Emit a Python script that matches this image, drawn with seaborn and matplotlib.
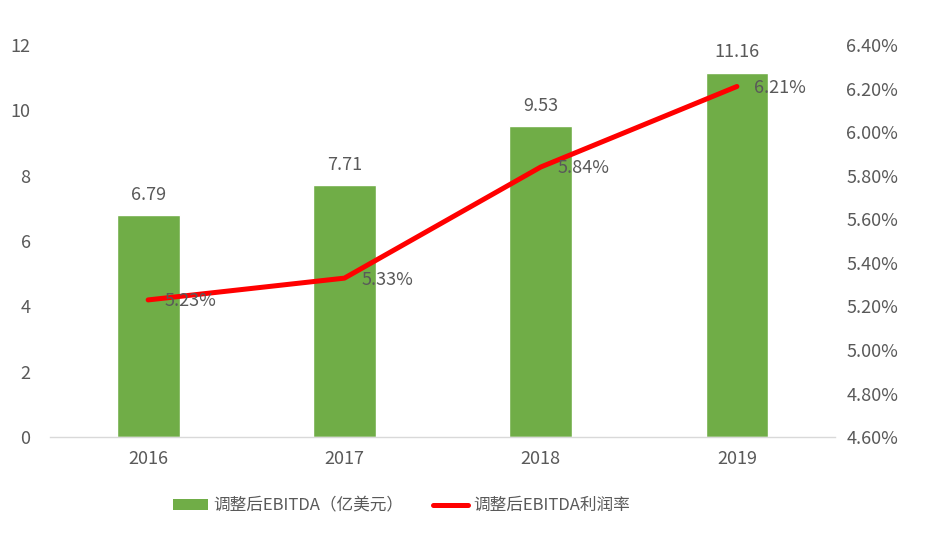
import matplotlib

matplotlib.use("Agg")

import matplotlib.pyplot as plt
import pandas as pd
import seaborn as sns
from matplotlib.lines import Line2D
from matplotlib.patches import Patch
from matplotlib.ticker import FuncFormatter

YEARS = ["2016", "2017", "2018", "2019"]
EBITDA = [6.79, 7.71, 9.53, 11.16]
MARGIN = [5.23, 5.33, 5.84, 6.21]

BAR_LABEL = "调整后EBITDA（亿美元）"
LINE_LABEL = "调整后EBITDA利润率"

GREEN = "#70AD47"
RED = "#FF0000"
TEXT = "#595959"
FS = 13


def main() -> None:
    sns.set_style("white")
    plt.rcParams["font.family"] = ["Noto Sans CJK SC", "DejaVu Sans"]

    df = pd.DataFrame({"year": YEARS, "ebitda": EBITDA, "margin": MARGIN})

    fig = plt.figure(figsize=(9.33, 5.37), dpi=100)
    ax = fig.add_axes([0.0536, 0.186, 0.8414, 0.730])

    sns.barplot(data=df, x="year", y="ebitda", color=GREEN, width=0.32,
                saturation=1, ax=ax)
    ax.set_xlim(-0.5, 3.5)
    ax.set_ylim(0, 12)
    ax.set_yticks(range(0, 13, 2))
    ax.set_xlabel("")
    ax.set_ylabel("")
    ax.tick_params(axis="both", colors=TEXT, labelsize=FS, length=0)
    ax.tick_params(axis="x", pad=9)
    ax.tick_params(axis="y", pad=14)
    for side in ["top", "right", "left"]:
        ax.spines[side].set_visible(False)
    ax.spines["bottom"].set_color("#D9D9D9")
    ax.spines["bottom"].set_linewidth(1)

    for i, v in enumerate(EBITDA):
        ax.annotate(f"{v:.2f}", (i, v), xytext=(0, 8), textcoords="offset points",
                    ha="center", va="bottom", fontsize=FS, color=TEXT)

    ax2 = ax.twinx()
    sns.lineplot(data=df, x="year", y="margin", color=RED, linewidth=3.6,
                 ax=ax2, sort=False)
    ax2.set_xlim(-0.5, 3.5)
    ax2.set_ylim(4.6, 6.4)
    ax2.set_yticks([4.6 + 0.2 * k for k in range(10)])
    ax2.yaxis.set_major_formatter(FuncFormatter(lambda v, _: f"{v:.2f}%"))
    ax2.set_ylabel("")
    ax2.tick_params(axis="y", colors=TEXT, labelsize=FS, length=0, pad=8)
    for side in ["top", "right", "left", "bottom"]:
        ax2.spines[side].set_visible(False)

    for i, v in enumerate(MARGIN):
        ax2.annotate(f"{v:.2f}%", (i, v), xytext=(12, -1), textcoords="offset points",
                     ha="left", va="center", fontsize=FS, color=TEXT)

    handles = [
        Patch(facecolor=GREEN, edgecolor="none"),
        Line2D([0], [0], color=RED, linewidth=3.6),
    ]
    fig.legend(handles, [BAR_LABEL, LINE_LABEL], loc="center", ncol=2,
               bbox_to_anchor=(0.43, 0.058), frameon=False, fontsize=12,
               labelcolor=TEXT, handlelength=2.1, handletextpad=0.3,
               columnspacing=1.8)

    fig.savefig("out.png", dpi=100)
    plt.close(fig)


if __name__ == "__main__":
    main()
